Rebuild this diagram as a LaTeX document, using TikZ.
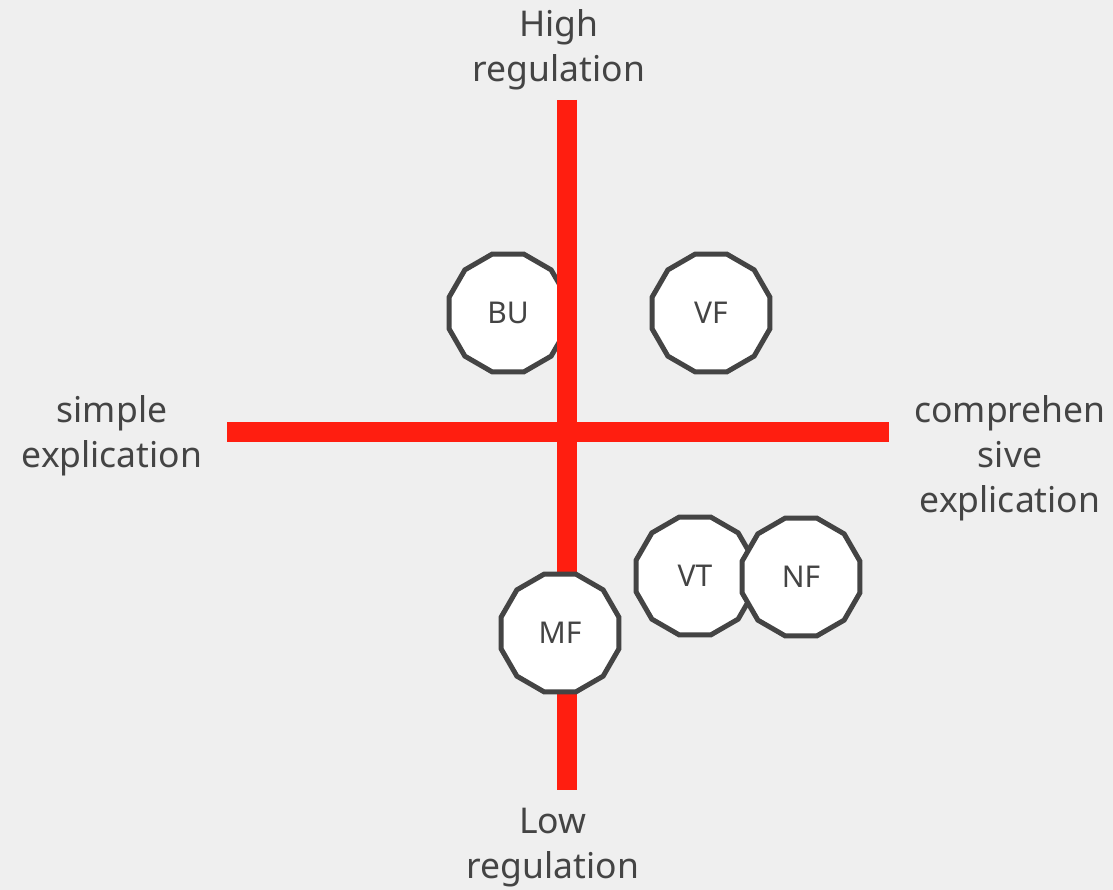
\documentclass[tikz,border=0pt]{standalone}
\usepackage{fontspec}
\setmainfont{Noto Sans}
\usetikzlibrary{shapes.geometric}
\definecolor{bg}{HTML}{EFEFEF}
\definecolor{axisred}{HTML}{FF1E10}
\definecolor{ink}{HTML}{444444}
\tikzset{
  axisline/.style={draw=axisred, line width=20pt, line cap=butt},
  topic/.style={regular polygon, regular polygon sides=12, minimum size=122pt, inner sep=0pt,
    draw=ink, line width=5pt, fill=white, text=ink, font=\fontsize{30}{36}\selectfont},
  axislabel/.style={align=center, text=ink, inner sep=0pt, font=\fontsize{35.5}{45}\selectfont},
}
\begin{document}
\begin{tikzpicture}[x=1pt, y=-1pt]
\fill[bg] (0,0) rectangle (1113,890);
\useasboundingbox (0,0) rectangle (1113,890);
\coordinate (hl) at (227,432);
\coordinate (hr) at (889,432);
\coordinate (vt) at (567,100);
\coordinate (vb) at (567,790);
\draw[axisline] (hl) -- (hr);
\node[topic] (BU) at (508,313) {BU};
\draw[axisline] (vt) -- (vb);
\node[topic] (VF) at (711,313) {VF};
\node[topic] (VT) at (695,576) {VT};
\node[topic] (NF) at (801,577) {NF};
\node[topic] (MF) at (560,633) {MF};
\node[axislabel] (high) at (559,50) {High\\regulation};
\node[axislabel] (simple) at (112,436) {simple\\explication};
\node[axislabel] (comp) at (1010,458) {comprehen\\sive\\explication};
\node[axislabel] (low) at (553,848) {Low\\regulation};
\end{tikzpicture}
\end{document}
